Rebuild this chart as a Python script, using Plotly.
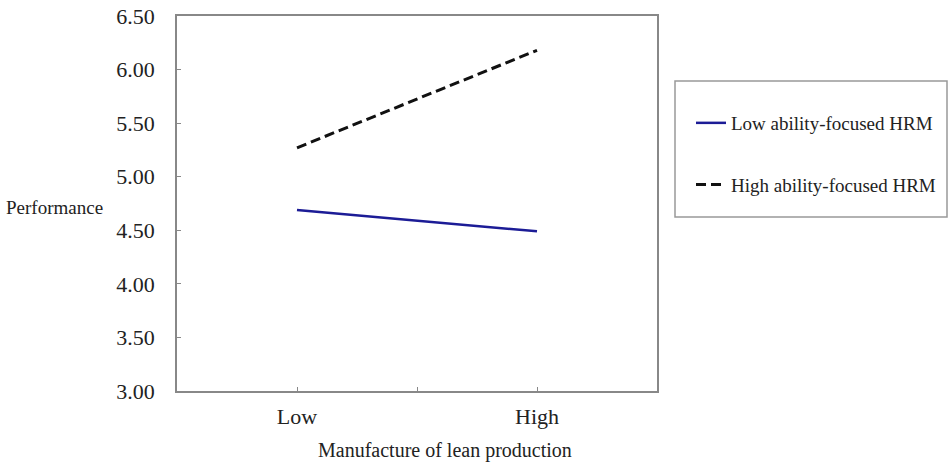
import plotly.graph_objects as go

categories = ["Low", "High"]
low_hrm = [4.69, 4.49]
high_hrm = [5.27, 6.18]
series_names = ["Low ability-focused HRM", "High ability-focused HRM"]
y_ticks = [3.0, 3.5, 4.0, 4.5, 5.0, 5.5, 6.0, 6.5]

FONT = "Liberation Serif"
W, H = 950, 462
L, T = 177, 16
R = W - 657
B = H - 391
pw = W - L - R
ph = H - T - B

def px(x):
    return (x - L) / pw

def py(y):
    return (H - B - y) / ph

fig = go.Figure()
fig.add_trace(go.Scatter(x=[0, 1], y=low_hrm, mode="lines", name=series_names[0],
                         line=dict(color="#1c1c96", width=2.5), legendgroup="a"))
fig.add_trace(go.Scatter(x=[0, 1], y=high_hrm, mode="lines", name=series_names[1],
                         line=dict(color="#111111", width=3, dash="10px,5px"), legendgroup="b"))

fig.update_layout(
    width=W, height=H,
    margin=dict(l=L, r=R, t=T, b=B, autoexpand=False),
    paper_bgcolor="white", plot_bgcolor="white",
    font=dict(family=FONT, size=18, color="#222"),
    showlegend=True,
    legend=dict(x=px(691), y=py(104), xanchor="left", yanchor="top",
                bgcolor="rgba(0,0,0,0)", borderwidth=0,
                tracegroupgap=34, font=dict(family=FONT, size=19, color="#222"),
                itemwidth=30),
    xaxis=dict(range=[-0.5, 1.5], tickvals=[0, 0.5, 1], ticktext=[categories[0], "", categories[1]],
               showgrid=False, zeroline=False, showline=True, linecolor="#888", linewidth=1.5,
               mirror=True, ticks="inside", ticklen=4, tickcolor="#888",
               tickfont=dict(family=FONT, size=22, color="#222"), ticklabelstandoff=5),
    yaxis=dict(range=[3, 6.5], tickvals=y_ticks, tickformat=".2f",
               showgrid=False, zeroline=False, showline=True, linecolor="#888", linewidth=1.5,
               mirror=True, ticks="inside", ticklen=4, tickcolor="#888",
               tickfont=dict(family=FONT, size=22, color="#222"), ticklabelstandoff=16,
               ticklabeloverflow="allow"),
)

fig.add_shape(type="rect", xref="paper", yref="paper",
              x0=px(675), x1=px(947), y0=py(217), y1=py(81),
              line=dict(color="#999", width=1.5), fillcolor="rgba(0,0,0,0)")

fig.add_annotation(text="Performance", xref="paper", yref="paper", x=px(5), y=py(207),
                   xanchor="left", yanchor="middle", showarrow=False, borderpad=0,
                   font=dict(family=FONT, size=19, color="#222"))
fig.add_annotation(text="Manufacture of lean production", xref="paper", yref="paper",
                   x=px(445), y=py(451), xanchor="center", yanchor="middle", showarrow=False,
                   font=dict(family=FONT, size=20, color="#222"))

fig.write_html("out.html", config={"displayModeBar": False},
               post_script="document.body.style.margin='0';")
